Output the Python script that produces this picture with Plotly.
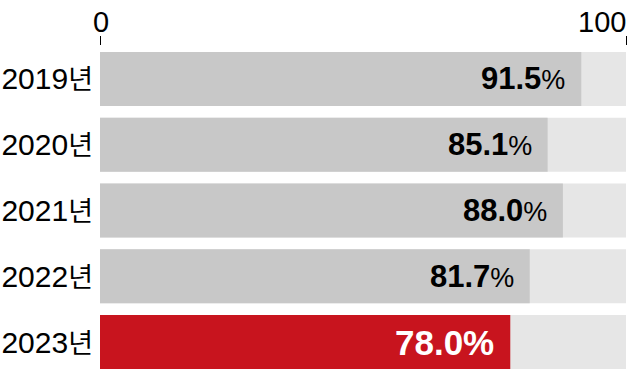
import plotly.graph_objects as go

years = ["2019년", "2020년", "2021년", "2022년", "2023년"]
values = [91.5, 85.1, 88.0, 81.7, 78.0]
full = [100, 100, 100, 100, 100]
tick_vals = [0, 100]
tick_text = ["0", "100"]

GRAY = "#c8c8c8"
LIGHT = "#e6e6e6"
RED = "#c8141e"
FONT = "Liberation Sans, Arial, Noto Sans CJK KR"

colors = [GRAY] * (len(values) - 1) + [RED]
year_text = [f"{y[:-1]}<span style='font-size:27px'>{y[-1]}</span>" for y in years]

fig = go.Figure()
fig.add_trace(go.Bar(y=years, x=full, orientation="h", marker=dict(color=LIGHT, line=dict(width=0)),
                     hoverinfo="skip", showlegend=False))
fig.add_trace(go.Bar(y=years, x=values, orientation="h", marker=dict(color=colors, line=dict(width=0)),
                     showlegend=False))

for i, (y, v) in enumerate(zip(years, values)):
    last = i == len(values) - 1
    if last:
        txt = f"<b>{v:.1f}%</b>"
        fnt = dict(family=FONT, size=35, color="white")
    else:
        txt = f"<b>{v:.1f}</b><span style='font-size:27px'>%</span>"
        fnt = dict(family=FONT, size=31, color="black")
    fig.add_annotation(x=v, y=y, xref="x", yref="y", text=txt, showarrow=False,
                       xanchor="right", yanchor="middle", xshift=-14, yshift=0, font=fnt)

# top axis labels
for tv, tt in zip(tick_vals, tick_text):
    fig.add_annotation(x=tv, y=1, xref="x", yref="paper", text=tt, showarrow=False,
                       xanchor="center" if tv == 0 else "right", yanchor="bottom", yshift=6,
                       xshift=1 if tv == 0 else 2,
                       font=dict(family=FONT, size=29, color="black"))

fig.update_layout(
    width=627, height=375,
    margin=dict(l=100, r=1, t=46, b=0),
    barmode="overlay", bargap=0.18,
    plot_bgcolor="white", paper_bgcolor="white",
    xaxis=dict(range=[0, 100], side="top", tickvals=tick_vals, showticklabels=False,
               ticks="outside", ticklen=9, tickwidth=1, tickcolor="black",
               showgrid=False, zeroline=False, showline=False, fixedrange=True),
    yaxis=dict(categoryorder="array", categoryarray=years[::-1], autorange=True,
               tickvals=years, ticktext=year_text, automargin=False,
               showgrid=False, zeroline=False, showline=False, ticks="",
               ticklabelstandoff=6,
               tickfont=dict(family=FONT, size=30, color="black")),
)

fig.write_html("out.html")
